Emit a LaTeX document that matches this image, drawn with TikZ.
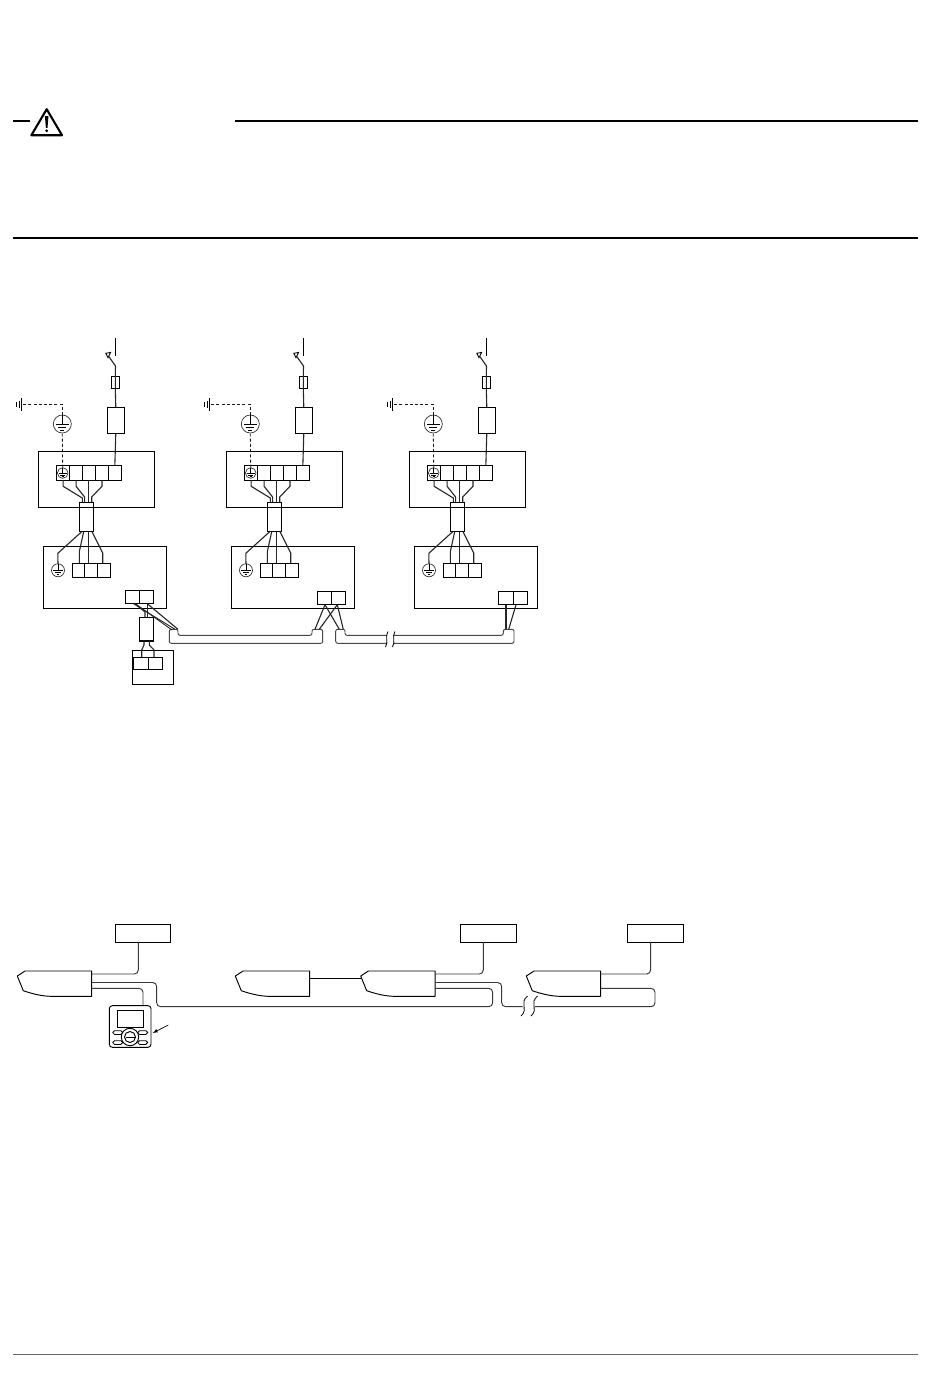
\documentclass[tikz,border=0pt]{standalone}
\tikzset{
  line/.style={draw=black,line width=0.95pt},
  boxst/.style={line,rectangle,inner sep=0pt,outer sep=0pt,anchor=north west},
  wire/.style={draw=black!85,line width=1.1pt},
  cablest/.style={draw=black!72,line width=0.95pt,rounded corners=2pt},
  thinwire/.style={draw=black!78,line width=0.95pt,rounded corners=4pt},
  gcircle/.style={draw=black!80,line width=0.7pt,circle,inner sep=0pt,outer sep=0pt},
  dash line/.style={draw=black!90,line width=0.8pt,dash pattern=on 3pt off 2.2pt},
  rule/.style={draw=black,line width=1.3pt}
}
\newcommand\bx[5]{%
  \pgfmathsetmacro\bxw{#4-#2}\pgfmathsetmacro\bxh{#5-#3}%
  \node[boxst,minimum width=\bxw pt,minimum height=\bxh pt] (#1) at (#2,#3) {};}
% earth symbol inside a circle node: name, x, y, radius
\newcommand\gnd[4]{%
  \node[gcircle,minimum size=#4*2pt] (#1) at (#2,#3) {};
  \draw[line,line width=0.8pt] (#1.north) -- ++(0,#4*1.05)
     ++(-#4*0.72,0) -- ++(#4*1.44,0)
     ++(-#4*1.17,#4*0.32) -- ++(#4*0.9,0)
     ++(-#4*0.66,#4*0.32) -- ++(#4*0.42,0);}
\newcommand\unit[2]{%
\begin{scope}[shift={(#2,0)}]
  % supply
  \coordinate (#1-sw1) at (115.5,338);
  \coordinate (#1-sw2) at (115.5,356);
  \draw[line] (#1-sw1) -- (#1-sw2);
  \coordinate (#1-sw3) at (108.6,356.2);
  \coordinate (#1-sw4) at (115.5,366);
  \draw[line,fill=white,line width=0.85pt] (105.8,353.3) -- (110.6,352.4) -- (108,357.6) -- cycle;
  \bx{#1-fuse}{111.3}{376.7}{119.3}{388.3}
  \bx{#1-brk}{107.3}{407.3}{124.3}{433.3}
  \bx{#1-out}{38.3}{451.3}{154.3}{507.3}
  \bx{#1-t1}{56.7}{465.3}{69.6}{480.3}
  \bx{#1-t2}{69.6}{465.3}{82.5}{480.3}
  \bx{#1-t3}{82.5}{465.3}{95.5}{480.3}
  \bx{#1-t4}{95.5}{465.3}{108.4}{480.3}
  \bx{#1-t5}{108.4}{465.3}{121.3}{480.3}
  \draw[wire] (#1-sw3) -- (#1-sw4) -- (#1-fuse.north) -- (#1-fuse.south);
  \draw[wire] (#1-fuse.south) -- (#1-brk.north);
  \draw[wire] (#1-brk.south) -- (#1-t5.north);
  % earth
  \gnd{#1-e1}{62.3}{424}{9}
  \gnd{#1-e2}{62.7}{473}{5.3}
  \coordinate (#1-g0) at (21.5,404.3);
  \draw[dash line] (#1-e2.north) -- (#1-e1.south);
  \draw[dash line] (#1-e1.north) |- (#1-g0);
  \draw[line] (21.5,398) -- (21.5,410.5) (19.3,400.5) -- (19.3,408) (16.9,402) -- (16.9,406.5);
  % cable block
  \bx{#1-cab}{79.3}{502.3}{93.3}{531.7}
  \draw[wire] (#1-t1.south) -- ++(0,6) -- (82.3,498) -- (82.3,502.3);
  \draw[wire] (#1-t2.south) -- ++(0,6) -- (84.6,497) -- (84.6,502.3);
  \draw[wire] (88.5,480.3) -- (88.5,502.3);
  \draw[wire] (#1-t4.south) -- ++(0,6) -- (91.7,497) -- (91.7,502.3);
  % lower box
  \bx{#1-low}{43.3}{546.3}{166.3}{608.3}
  \gnd{#1-e3}{58}{570.3}{6.5}
  \bx{#1-l1}{72.7}{563.3}{84.7}{577.3}
  \bx{#1-l2}{84.7}{563.3}{97.7}{577.3}
  \bx{#1-l3}{97.7}{563.3}{110.3}{577.3}
  \draw[wire] (81.7,531.7) -- (57.8,553.3) -- (#1-e3.north);
  \draw[wire] (83.7,531.7) -- (79.3,551.7) -- (79.3,563.3);
  \draw[wire] (88.3,531.7) -- (88.3,563.3);
  \draw[wire] (92,531.7) -- (102.7,553) -- (102.7,563.3);
\end{scope}}
\begin{document}
\begin{tikzpicture}[x=1pt,y=-1pt]
\useasboundingbox (0,0) rectangle (950,1379);
\fill[white] (0,0) rectangle (950,1379);
% header
\coordinate (h1) at (13,120.7); \coordinate (h2) at (30,120.7);
\coordinate (h3) at (235,120.7); \coordinate (h4) at (918,120.7);
\draw[rule,line width=1.7pt] (h1) -- (h2);
\draw[rule,line width=1.7pt] (h3) -- (h4);
\draw[line width=2.1pt,line join=round] (46.7,109.2) -- (62,135.2) -- (31.4,135.2) -- cycle;
\fill (44.9,116) -- (48.5,116) -- (47.5,127.8) -- (45.9,127.8) -- cycle;
\fill (46.7,130.8) circle (1.6);
\coordinate (r1) at (13,238); \coordinate (r2) at (918,238);
\draw[rule] (r1) -- (r2);
\coordinate (f1) at (13,1354); \coordinate (f2) at (918,1354);
\draw[draw=black!60,line width=0.75pt] (f1) -- (f2);
% three units
\unit{a}{0}
\unit{b}{188}
\unit{c}{371}
% transmission terminals
\bx{a-x1}{125.3}{590.3}{139.3}{603.7}
\bx{a-x2}{139.3}{590.3}{153.7}{603.7}
\bx{b-x1}{317.3}{591.3}{331.3}{604.7}
\bx{b-x2}{331.3}{591.3}{345.7}{604.7}
\bx{c-x1}{498.3}{591.3}{513.3}{604.7}
\bx{c-x2}{513.3}{591.3}{527.3}{604.7}
% remote
\bx{rc-cab}{139.3}{617.3}{153.7}{640.7}
\draw[line,line width=1.8pt] (rc-cab.south west) -- (rc-cab.south east);
\bx{rc-box}{132.3}{650.3}{173.3}{684.3}
\bx{rc-t1}{133.3}{657.3}{148.3}{669.3}
\bx{rc-t2}{148.3}{657.3}{162.3}{669.3}
\draw[wire] (135,603.7) -- (145,612) -- (145,617.3);
\draw[wire,line width=1.5pt] (147.3,603.7) -- (147.3,617.3);
\draw[wire] (144,640.7) -- (144,645) -- (141.7,650) -- (141.7,657.3);
\draw[wire] (149.3,640.7) -- (149.3,645) -- (154,650) -- (154,657.3);
% trunk cables
\coordinate (k1a) at (175,629.3); \coordinate (k1b) at (178,629.3);
\draw[cablest] (169.3,643.3) -- (169.3,629.3) -- (178,629.3) -- (178,635.3) -- (312,635.3) -- (312,629.3) -- (322.7,629.3) -- (322.7,643.3) -- cycle;
\draw[cablest] (386.5,635.3) -- (345,635.3) -- (345,629.3) -- (335.7,629.3) -- (335.7,643.3) -- (387,643.3);
\draw[cablest] (394,635.3) -- (503.3,635.3) -- (503.3,629.3) -- (514,629.3) -- (514,643.3) -- (394,643.3);
\draw[line,line width=0.8pt] (388,631.5) .. controls (384.5,637) and (389,641) .. (385.5,647);
\draw[line,line width=0.8pt] (395,631.5) .. controls (391.5,637) and (396,641) .. (392.5,647);
\draw[wire,line width=0.9pt] (133.5,603.7) -- (k1a);
\draw[wire,line width=0.9pt] (136.5,604.5) -- (172,630);
\draw[wire] (147.3,603.7) -- (k1b);
\draw[wire] (325,604.7) -- (315,629.3);
\draw[wire] (325,604.7) -- (339.3,629.3);
\draw[wire] (337.3,604.7) -- (319.3,629.3);
\draw[wire] (337.3,604.7) -- (343.3,629.3);
\draw[wire] (506,604.7) -- (506,629.3);
\draw[wire] (516,604.7) -- (508.7,629.3);
% lower diagram: outdoor boxes
\bx{p1}{115.3}{924.3}{170.7}{942.3}
\bx{p2}{460.3}{924.3}{516.3}{942.3}
\bx{p3}{627.3}{924.3}{683.3}{942.3}
\newcommand\iu[2]{%
 \begin{scope}[shift={(#2,0)}]
 \draw[line,line join=round] (17.3,976) -- (25,971) -- (91.7,971) -- (91.7,996.3) -- (50,996.3) .. controls (40,996) and (30,993) .. (23.3,990.7) -- cycle;
 \coordinate (#1-w) at (17.8,978.3);
 \coordinate (#1-a) at (91.7,974);
 \coordinate (#1-b) at (91.7,982.5);
 \coordinate (#1-c) at (91.7,988.3);
 \coordinate (#1-d) at (91.7,978.3);
 \end{scope}}
\iu{u1}{0}
\iu{u2}{218}
\iu{u3}{343.4}
\iu{u4}{509}
\draw[thinwire] (u1-a) -| ([xshift=-4.7pt]p1.south);
\draw[thinwire] (u3-a) -| ([xshift=-5pt]p2.south);
\draw[thinwire] (u4-a) -| ([xshift=-4.7pt]p3.south);
\draw[line] (u2-d) -- (u3-w);
% remote controller
\coordinate (m) at (130,1037);
\draw[line,rounded corners=3pt] (109.3,1005.7) rectangle (151,1047.3);
\node[boxst,minimum width=26pt,minimum height=17.3pt] (scr) at (117.3,1010) {};
\foreach \bxa/\bxb in {112.7/1030.7,137.7/1030.7,112.7/1040.7,137.7/1040.7}{
  \draw[line,rounded corners=1.8pt,line width=0.8pt] (\bxa,\bxb) rectangle ++(10,3.7);}
\node[gcircle,line,fill=white,minimum size=17.4pt] (pad) at (m) {};
\node[gcircle,line,minimum size=11pt] (padin) at (m) {};
\draw[line] (125.5,1037) -- (134.5,1037);
\coordinate (rctop) at (143,1005.7);
\draw[thinwire] (u1-c) -| (rctop);
\coordinate (ar1) at (168.3,1025);
\coordinate (ar2) at (152.7,1033);
\draw[line,line width=0.7pt,-latex] (ar1) -- (ar2);
% transmission wiring
\coordinate (j1) at (522.7,1006.7);
\coordinate (j2) at (535,1006.7);
\draw[thinwire] (u1-b) -- (156.7,982.5) -- (156.7,1006.7) -- (492.7,1006.7) -- (492.7,988.3) -- (u3-c);
\draw[thinwire] (435.1,982.5) -- (501.7,982.5) -- (501.7,1006.7) -- (j1);
\draw[thinwire] (j2) -- (655,1006.7) -- (655,988.3) -- (u4-c);
\draw[line,line width=0.8pt] (527.5,996) .. controls (519,1003) and (529,1009) .. (521,1016);
\draw[line,line width=0.8pt] (537.5,996) .. controls (529,1003) and (539,1009) .. (531,1016);
\end{tikzpicture}
\end{document}
